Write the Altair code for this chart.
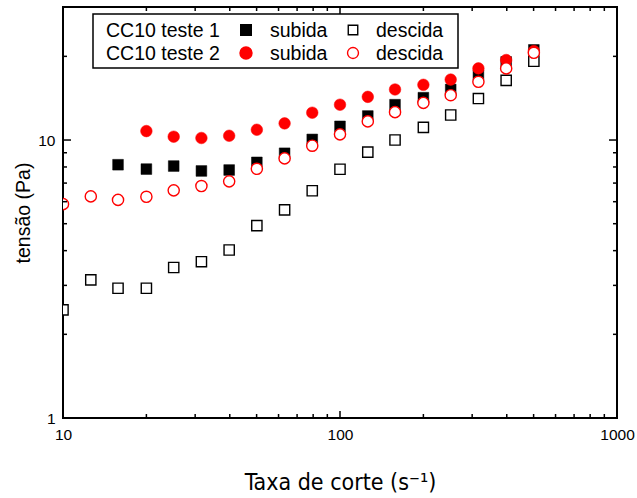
import altair as alt
import pandas as pd

# shear rate (s^-1)
x_all = [10, 12.6, 15.8, 20, 25.1, 31.6, 39.8, 50.1, 63.1, 79.4, 100, 126, 158, 200, 251, 316, 398, 501]
x_from16 = x_all[2:]
x_from20 = x_all[3:]

t1_subida = [8.15, 7.86, 8.06, 7.74, 7.80, 8.31, 8.96, 10.05, 11.2, 12.2, 13.4, 14.2, 15.2, 17.1, 19.1, 21.1]
t1_descida = [2.45, 3.14, 2.93, 2.93, 3.48, 3.65, 4.02, 4.92, 5.61, 6.57, 7.85, 9.05, 10.0, 11.1, 12.3, 14.1, 16.4, 19.2]
t2_subida = [10.77, 10.28, 10.17, 10.36, 10.89, 11.48, 12.54, 13.4, 14.3, 15.2, 15.8, 16.5, 18.1, 19.4, 20.9]
t2_descida = [5.88, 6.27, 6.09, 6.25, 6.59, 6.83, 7.10, 7.88, 8.59, 9.54, 10.48, 11.67, 12.6, 13.6, 14.5, 16.2, 18.1, 20.6]

x_major = [10, 100, 1000]
x_minor = [20, 30, 40, 50, 60, 70, 80, 90, 200, 300, 400, 500, 600, 700, 800, 900]
y_major = [1, 10]
y_minor = [2, 3, 4, 5, 6, 7, 8, 9, 20]

legend_rows = ["CC10 teste 1", "CC10 teste 2"]
legend_up = "subida"
legend_down = "descida"

W, H = 554, 411
RED = "#ff0000"
COND = "DejaVu Sans Condensed, Liberation Sans Narrow, Roboto, sans-serif"

xscale = alt.Scale(type="log", domain=[10, 1000], nice=False)
yscale = alt.Scale(type="log", domain=[1, 30.1], nice=False)

xaxis = alt.Axis(values=x_major, format="~g", title="Taxa de corte (s⁻¹)")
yaxis = alt.Axis(values=y_major, format="~g", title="tensão (Pa)")


def series(xs, ys, shape, filled, color):
    df = pd.DataFrame({"x": xs, "y": ys})
    if filled:
        m = alt.Chart(df).mark_point(shape=shape, filled=True, fill=color, stroke=color,
                                     strokeWidth=0.5, size=135 if shape == "circle" else 115,
                                     opacity=1, clip=True)
    else:
        m = alt.Chart(df).mark_point(shape=shape, filled=False, fill="white", fillOpacity=1,
                                     stroke=color, strokeWidth=1.4,
                                     size=125 if shape == "circle" else 105, opacity=1, clip=True)
    return m.encode(x=alt.X("x:Q", scale=xscale, axis=xaxis),
                    y=alt.Y("y:Q", scale=yscale, axis=yaxis))


layers = [
    series(x_from16, t1_subida, "square", True, "black"),
    series(x_all, t1_descida, "square", False, "black"),
    series(x_from20, t2_subida, "circle", True, RED),
    series(x_all, t2_descida, "circle", False, RED),
]


# inward ticks on all four sides
def xticks(vals, length):
    df = pd.DataFrame({"x": vals})
    bot = alt.Chart(df).mark_rule(color="black", strokeWidth=1.5).encode(
        x=alt.X("x:Q", scale=xscale, axis=xaxis), y=alt.value(H), y2=alt.value(H - length))
    top = alt.Chart(df).mark_rule(color="black", strokeWidth=1.5).encode(
        x=alt.X("x:Q", scale=xscale, axis=xaxis), y=alt.value(0), y2=alt.value(length))
    return [bot, top]


def yticks(vals, length):
    df = pd.DataFrame({"y": vals})
    left = alt.Chart(df).mark_rule(color="black", strokeWidth=1.5).encode(
        y=alt.Y("y:Q", scale=yscale, axis=yaxis), x=alt.value(0), x2=alt.value(length))
    right = alt.Chart(df).mark_rule(color="black", strokeWidth=1.5).encode(
        y=alt.Y("y:Q", scale=yscale, axis=yaxis), x=alt.value(W), x2=alt.value(W - length))
    return [left, right]


layers += xticks(x_major, 7) + xticks(x_minor, 4) + yticks(y_major, 8) + yticks(y_minor, 4)

# legend box
one = alt.Data(values=[{"a": 1}])
layers.append(alt.Chart(one).mark_rect(fill="white", stroke="black", strokeWidth=1.5).encode(
    x=alt.value(30), x2=alt.value(395), y=alt.value(7), y2=alt.value(61)))

row_y = [23, 46]
for i, lab in enumerate(legend_rows):
    for txt, xp in [(lab, 43), (legend_up, 207), (legend_down, 313)]:
        layers.append(alt.Chart(one).mark_text(text=txt, align="left", baseline="middle",
                                               font="Liberation Sans", fontSize=19.5,
                                               color="black").encode(
            x=alt.value(xp), y=alt.value(row_y[i] + 1)))
    color = "black" if i == 0 else RED
    shape = "square" if i == 0 else "circle"
    layers.append(alt.Chart(one).mark_point(shape=shape, filled=True, fill=color, stroke=color,
                                            size=100 if i == 0 else 130, opacity=1).encode(
        x=alt.value(183), y=alt.value(row_y[i])))
    layers.append(alt.Chart(one).mark_point(shape=shape, filled=False, fill="white", stroke=color,
                                            strokeWidth=1.4, size=90 if i == 0 else 120,
                                            opacity=1).encode(
        x=alt.value(290), y=alt.value(row_y[i])))

chart = alt.layer(*layers).properties(
    width=W, height=H,
    autosize=alt.AutoSizeParams(type="none"),
    padding={"left": 63, "top": 7, "right": 20, "bottom": 80},
    background="white",
).configure_view(stroke="black", strokeWidth=2).configure_axis(
    ticks=False, domain=False, grid=False, labelFlush=False, labelOverlap=False,
    labelFont="Liberation Sans", labelFontSize=15.5, labelColor="black",
    titleFontWeight="normal", titleColor="black",
).configure_axisX(
    labelPadding=9, titleFont=COND, titleFontSize=23, titlePadding=29,
).configure_axisY(
    labelPadding=8, titleFont="Liberation Sans", titleFontSize=19.5, titlePadding=4,
)

chart.save("out.html", embed_options={"renderer": "svg", "actions": False})
